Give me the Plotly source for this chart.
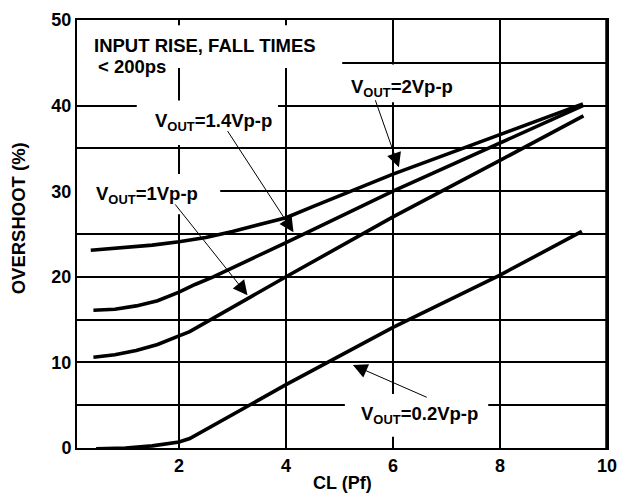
import plotly.graph_objects as go

# ---- data ----
cl_2v = [0.35, 1.0, 1.5, 2.0, 2.5, 3.0, 3.5, 4.0, 4.5, 5.0, 6.0, 7.0, 8.0, 9.55]
os_2v = [23.1, 23.4, 23.7, 24.1, 24.6, 25.3, 26.1, 26.9, 28.2, 29.5, 32.0, 34.3, 36.6, 40.2]

cl_14v = [0.4, 0.8, 1.2, 1.6, 2.0, 2.3, 2.64, 4.0, 6.0, 8.0, 9.55]
os_14v = [16.1, 16.2, 16.6, 17.2, 18.2, 19.1, 20.0, 24.0, 30.0, 35.6, 40.0]

cl_1v = [0.4, 0.8, 1.2, 1.6, 2.0, 2.2, 4.0, 6.0, 8.0, 9.56]
os_1v = [10.6, 10.9, 11.4, 12.1, 13.1, 13.6, 20.0, 27.0, 33.6, 38.8]

cl_02v = [0.45, 1.0, 1.5, 2.0, 2.2, 4.0, 6.0, 8.0, 9.53]
os_02v = [-0.1, 0.0, 0.25, 0.7, 1.1, 7.4, 14.1, 20.2, 25.3]

x_ticks = [2, 4, 6, 8, 10]
y_ticks = [0, 10, 20, 30, 40, 50]

FONT = "Liberation Sans, Arial, sans-serif"

fig = go.Figure()
for xs, ys in [(cl_2v, os_2v), (cl_14v, os_14v), (cl_1v, os_1v), (cl_02v, os_02v)]:
    fig.add_trace(go.Scatter(x=xs, y=ys, mode="lines",
                             line=dict(color="black", width=3.6),
                             hoverinfo="skip"))

# white masks that interrupt the grid behind the labels
masks = [
    (0.093, 5.05, 44.4, 49.4),
    (5.3, 7.3, 40.4, 44.8),
    (1.21, 3.85, 35.4, 40.6),
    (0.093, 2.77, 27.3, 32.0),
    (5.1, 7.78, 1.3, 6.3),
]
for x0, x1, y0, y1 in masks:
    fig.add_shape(type="rect", xref="x", yref="y", x0=x0, x1=x1, y0=y0, y1=y1,
                  fillcolor="white", line=dict(width=0), layer="between")

# right border thicker
fig.add_shape(type="line", xref="paper", yref="paper", x0=1, x1=1, y0=0, y1=1,
              line=dict(color="black", width=3.5), layer="above")

lab_font = dict(family=FONT, size=18.5, color="black", weight="bold")

fig.add_annotation(x=0.37, y=47.0, xref="x", yref="y", text="INPUT RISE, FALL TIMES",
                   showarrow=False, xanchor="left", yanchor="middle", font=lab_font)
fig.add_annotation(x=0.45, y=44.6, xref="x", yref="y", text="&lt; 200ps",
                   showarrow=False, xanchor="left", yanchor="middle", font=lab_font)

labels = [
    (6.17, 42.0, "V<sub>OUT</sub>=2Vp-p"),
    (2.64, 38.1, "V<sub>OUT</sub>=1.4Vp-p"),
    (1.40, 29.5, "V<sub>OUT</sub>=1Vp-p"),
    (6.50, 3.8, "V<sub>OUT</sub>=0.2Vp-p"),
]
for x, y, t in labels:
    fig.add_annotation(x=x, y=y, xref="x", yref="y", text=t, showarrow=False,
                       xanchor="center", yanchor="middle", font=lab_font)

arrows = [
    (6.11, 32.8, 5.66, 40.8),
    (4.14, 25.2, 2.89, 37.2),
    (3.28, 17.85, 1.91, 28.6),
    (5.25, 9.7, 6.65, 5.87),
]
for hx, hy, tx, ty in arrows:
    fig.add_annotation(x=hx, y=hy, ax=tx, ay=ty, xref="x", yref="y", axref="x", ayref="y",
                       text=" ", font=dict(size=2), borderpad=0,
                       showarrow=True, arrowhead=2, arrowsize=2.9, arrowwidth=1,
                       arrowcolor="black", standoff=0, startstandoff=0)

title_font = dict(family=FONT, size=18.5, color="black", weight="bold")
# axis titles placed as text
fig.add_annotation(x=-0.111, y=0.537, xref="paper", yref="paper", text="OVERSHOOT (%)",
                   textangle=-90, showarrow=False, xanchor="center", yanchor="middle",
                   font=title_font)
fig.add_annotation(x=0.5, y=-0.0815, xref="paper", yref="paper", text="CL (Pf)",
                   showarrow=False, xanchor="center", yanchor="middle",
                   font=dict(family=FONT, size=18, color="black", weight="bold"))

tick_font = dict(family=FONT, size=18, color="black", weight="bold")
grid = dict(showgrid=True, gridcolor="black", gridwidth=2)
fig.update_layout(
    width=621, height=485,
    margin=dict(l=69, r=22, t=12, b=45),
    paper_bgcolor="white", plot_bgcolor="white",
    showlegend=False,
    font=dict(family=FONT, size=18, color="black"),
    xaxis=dict(range=[0.093, 10], tickvals=x_ticks, **grid,
               showline=True, linecolor="black", linewidth=2, mirror=True, ticks="",
               zeroline=False, tickfont=tick_font, automargin=False),
    yaxis=dict(range=[0, 50], tickvals=y_ticks, **grid,
               minor=dict(dtick=5, showgrid=True, gridcolor="black", gridwidth=2, ticks=""),
               showline=True, linecolor="black", linewidth=2,
               mirror=True, ticks="", zeroline=False, tickfont=tick_font, automargin=False),
)

fig.write_html("out.html")
